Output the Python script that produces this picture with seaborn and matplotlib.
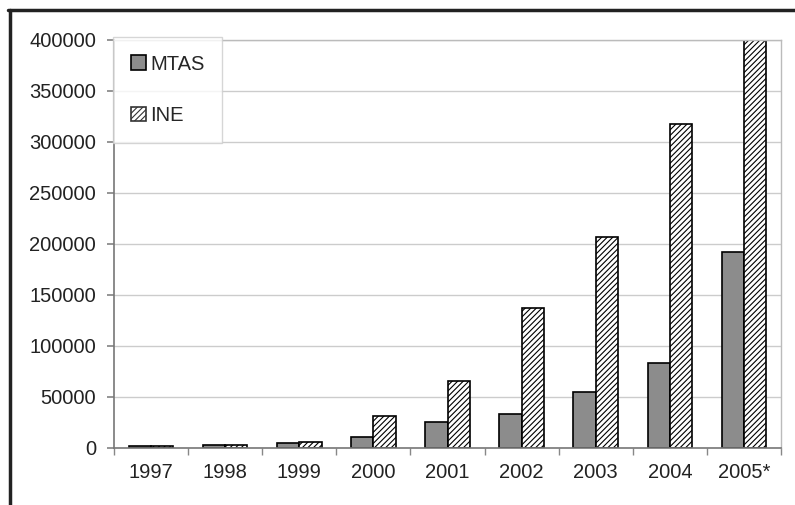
import matplotlib
matplotlib.use("Agg")
import matplotlib.pyplot as plt
import seaborn as sns
import pandas as pd
from matplotlib.lines import Line2D
from matplotlib.patches import Patch

years = ["1997", "1998", "1999", "2000", "2001", "2002", "2003", "2004", "2005*"]
mtas = [1500, 3000, 5000, 11000, 25000, 33500, 55000, 83000, 192000]
ine = [1500, 2500, 6000, 31000, 66000, 137000, 207000, 318000, 400000]
series = ["MTAS", "INE"]

df = pd.DataFrame({
    "year": years * 2,
    "value": mtas + ine,
    "series": [series[0]] * len(years) + [series[1]] * len(years),
})

sns.set_theme(style="white")
plt.rcParams["font.family"] = ["Liberation Sans", "DejaVu Sans"]
plt.rcParams["hatch.color"] = "#333333"
plt.rcParams["hatch.linewidth"] = 0.8

FS = 14.5

fig = plt.figure(figsize=(7.95, 5.05), dpi=100)
ax = fig.add_axes([0.1434, 0.1129, 0.8390, 0.8079])

sns.barplot(data=df, x="year", y="value", hue="series", order=years,
            hue_order=series, palette=["#8c8c8c", "white"], width=0.6,
            edgecolor="black", linewidth=1.2, ax=ax, legend=False)

for bar in ax.containers[1]:
    bar.set_hatch("//////")
    bar.set_facecolor("white")

ax.set_ylim(0, 400000)
ax.set_xlim(-0.5, len(years) - 0.5)
ax.set_yticks(range(0, 400001, 50000))
ax.set_yticklabels([str(v) for v in range(0, 400001, 50000)], fontsize=FS, color="#222222")
ax.set_xticks(range(len(years)))
ax.set_xticklabels(years, fontsize=FS, color="#222222")
ax.set_xticks([i - 0.5 for i in range(len(years) + 1)], minor=True)
ax.tick_params(axis="x", which="major", length=0, pad=11)
ax.tick_params(axis="x", which="minor", length=5, color="#888888", direction="out", bottom=True)
ax.tick_params(axis="y", length=5, color="#888888", direction="out", left=True, pad=8)
ax.set_xlabel("")
ax.set_ylabel("")

ax.yaxis.grid(True, color="#cccccc", linewidth=1)
ax.set_axisbelow(True)
for side in ["top", "right"]:
    ax.spines[side].set_color("#bbbbbb")
    ax.spines[side].set_linewidth(1)
for side in ["left", "bottom"]:
    ax.spines[side].set_color("#777777")
    ax.spines[side].set_linewidth(1.2)

handles = [Patch(facecolor="#8c8c8c", edgecolor="black", linewidth=1.2),
           Patch(facecolor="white", edgecolor="#333333", hatch="//////", linewidth=1.2)]
leg = ax.legend(handles, series, loc="upper left", bbox_to_anchor=(-0.002, 1.008),
                fontsize=FS, handlelength=0.75, handleheight=0.75, handletextpad=0.2,
                labelspacing=1.6, borderpad=0.9, frameon=True, fancybox=False,
                borderaxespad=0)
leg.get_frame().set_edgecolor("#cccccc")
leg.get_frame().set_linewidth(1)

# outer frame lines (top and left)
fig.add_artist(Line2D([0.010, 1.0], [0.980, 0.980], color="#222222", linewidth=2.5,
                      transform=fig.transFigure))
fig.add_artist(Line2D([0.012, 0.012], [0.0, 0.980], color="#222222", linewidth=2.5,
                      transform=fig.transFigure))

fig.savefig("out.png", dpi=100)
